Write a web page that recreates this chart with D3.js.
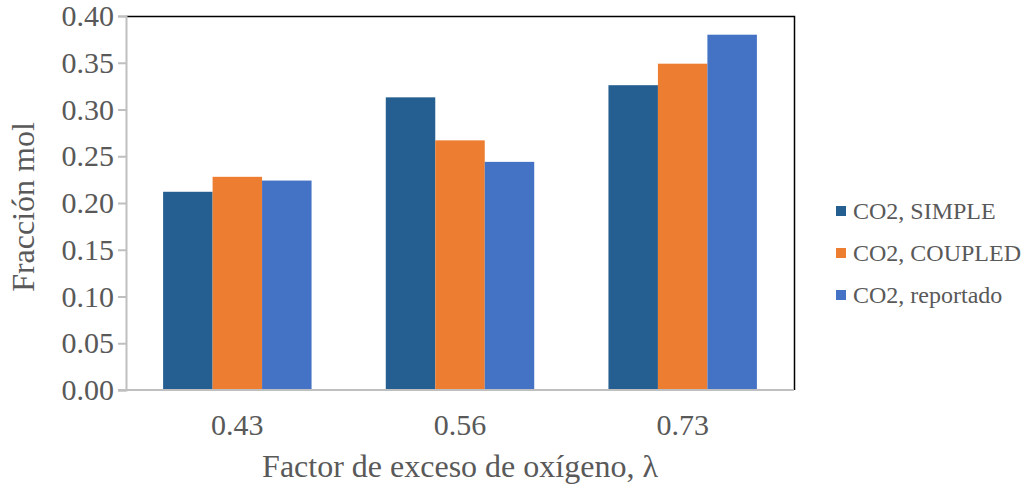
<!DOCTYPE html>
<html>
<head>
<meta charset="utf-8">
<script src="https://cdn.jsdelivr.net/npm/d3@7"></script>
<style>
  html, body { margin: 0; padding: 0; background: #fff; }
  svg { display: block; font-family: "Liberation Serif", "Times New Roman", serif; }
</style>
</head>
<body>
<svg id="chart" width="1026" height="488"></svg>
<script>
// Factor de exceso de oxígeno (categories) and CO2 mole fractions per model
const categories = ["0.43", "0.56", "0.73"];
const seriesNames = ["CO2, SIMPLE", "CO2, COUPLED", "CO2, reportado"];
const simpleValues = [0.212, 0.313, 0.326];
const coupledValues = [0.228, 0.267, 0.349];
const reportadoValues = [0.224, 0.244, 0.380];
const yTicks = [0, 0.05, 0.10, 0.15, 0.20, 0.25, 0.30, 0.35, 0.40];
const colors = ["#255E91", "#ED7D31", "#4472C4"];

const seriesValues = [simpleValues, coupledValues, reportadoValues];
const rows = categories.map((c, i) => ({
  cat: c,
  vals: seriesNames.map((s, j) => ({ key: s, value: seriesValues[j][i], color: colors[j] }))
}));

const svg = d3.select("#chart");
const plot = { left: 126, right: 794, top: 16, bottom: 390 };

const x0 = d3.scaleBand()
  .domain(categories)
  .range([plot.left, plot.right])
  .paddingInner(1 / 3)
  .paddingOuter(1 / 6);
const x1 = d3.scaleBand()
  .domain(seriesNames)
  .range([0, x0.bandwidth()]);
const y = d3.scaleLinear().domain([0, 0.4]).range([plot.bottom, plot.top]);

// bars
const groups = svg.append("g").selectAll("g")
  .data(rows).join("g")
  .attr("transform", d => `translate(${x0(d.cat)},0)`);
groups.selectAll("rect")
  .data(d => d.vals).join("rect")
  .attr("x", d => x1(d.key))
  .attr("width", x1.bandwidth())
  .attr("y", d => y(d.value))
  .attr("height", d => y(0) - y(d.value))
  .attr("fill", d => d.color);

// outer frame: top and right edges
svg.append("path")
  .attr("d", `M${plot.left},${plot.top + 0.5}H${plot.right + 0.5}V${plot.bottom}`)
  .attr("fill", "none")
  .attr("stroke", "#000")
  .attr("stroke-width", 1.5);

// y axis
const yAxis = d3.axisLeft(y)
  .tickValues(yTicks)
  .tickFormat(d3.format(".2f"))
  .tickSize(8)
  .tickPadding(4);
const gy = svg.append("g")
  .attr("transform", `translate(${plot.left},0)`)
  .call(yAxis);
gy.select(".domain").attr("stroke", "#bfbfbf").attr("stroke-width", 2);
gy.selectAll(".tick line").attr("stroke", "#bfbfbf").attr("stroke-width", 2);
gy.selectAll(".tick text")
  .attr("fill", "#595959")
  .attr("font-size", 30)
  .attr("font-family", "Liberation Serif, Times New Roman, serif");

// x axis
const xAxis = d3.axisBottom(x0).tickSize(0).tickPadding(24);
const gx = svg.append("g")
  .attr("transform", `translate(0,${plot.bottom})`)
  .call(xAxis);
gx.select(".domain").remove();
gx.append("line")
  .attr("x1", plot.left - 8).attr("x2", plot.right)
  .attr("y1", 0).attr("y2", 0)
  .attr("stroke", "#bfbfbf").attr("stroke-width", 2);
gx.selectAll(".tick text")
  .attr("fill", "#595959")
  .attr("font-size", 30)
  .attr("font-family", "Liberation Serif, Times New Roman, serif");

// axis titles
svg.append("text")
  .attr("x", 460).attr("y", 477)
  .attr("text-anchor", "middle")
  .attr("fill", "#595959")
  .attr("font-size", 32)
  .text("Factor de exceso de oxígeno, λ");
svg.append("text")
  .attr("transform", "translate(34,207) rotate(-90)")
  .attr("text-anchor", "middle")
  .attr("fill", "#595959")
  .attr("font-size", 32)
  .text("Fracción mol");

// legend
const legend = svg.append("g").selectAll("g")
  .data(seriesNames).join("g")
  .attr("transform", (d, i) => `translate(836,${211 + i * 42})`);
legend.append("rect")
  .attr("x", 0).attr("y", -5)
  .attr("width", 10).attr("height", 10)
  .attr("fill", (d, i) => colors[i]);
legend.append("text")
  .attr("x", 17).attr("y", 8)
  .attr("fill", "#595959")
  .attr("font-size", 24)
  .text(d => d);
</script>
</body>
</html>
